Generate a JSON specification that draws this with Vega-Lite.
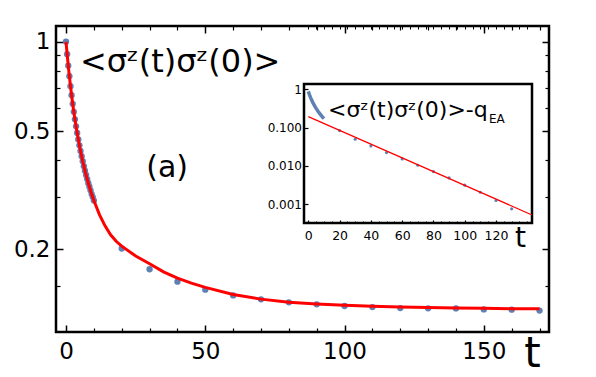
{
  "$schema": "https://vega.github.io/schema/vega-lite/v6.json",
  "width": 493,
  "height": 306,
  "autosize": {"type": "none"},
  "padding": {"left": 56, "top": 26, "right": 47, "bottom": 45},
  "background": "white",
  "config": {
    "view": {"stroke": "black", "strokeWidth": 2.5},
    "font": "DejaVu Sans",
    "axis": {"grid": false, "domain": false, "tickColor": "black", "labelColor": "black", "titleColor": "black", "labelFont": "DejaVu Sans", "titleFont": "DejaVu Sans", "titleFontWeight": "normal", "labelOverlap": false, "labelBound": false, "labelFlush": false}
  },
  "datasets": {
    "mainData": [
      {"t": 0, "c": 1.0}, {"t": 0.4, "c": 0.908}, {"t": 0.8, "c": 0.831}, {"t": 1.2, "c": 0.766},
      {"t": 1.6, "c": 0.709}, {"t": 2.0, "c": 0.661}, {"t": 2.4, "c": 0.618}, {"t": 2.8, "c": 0.581},
      {"t": 3.2, "c": 0.548}, {"t": 3.6, "c": 0.519}, {"t": 4.0, "c": 0.493}, {"t": 4.4, "c": 0.469},
      {"t": 4.8, "c": 0.448}, {"t": 5.2, "c": 0.429}, {"t": 5.6, "c": 0.412}, {"t": 6.0, "c": 0.396},
      {"t": 6.4, "c": 0.381}, {"t": 6.8, "c": 0.368}, {"t": 7.2, "c": 0.356}, {"t": 7.6, "c": 0.345},
      {"t": 8.0, "c": 0.334}, {"t": 8.4, "c": 0.325}, {"t": 8.8, "c": 0.316}, {"t": 9.2, "c": 0.307},
      {"t": 9.6, "c": 0.300}, {"t": 10.0, "c": 0.292},
      {"t": 20, "c": 0.2013}, {"t": 30, "c": 0.1714}, {"t": 40, "c": 0.1557}, {"t": 50, "c": 0.1463},
      {"t": 60, "c": 0.140}, {"t": 70, "c": 0.1358}, {"t": 80, "c": 0.1327}, {"t": 90, "c": 0.1306},
      {"t": 100, "c": 0.1289}, {"t": 110, "c": 0.1279}, {"t": 120, "c": 0.1269}, {"t": 130, "c": 0.1266},
      {"t": 140, "c": 0.1265}, {"t": 150, "c": 0.1256}, {"t": 160, "c": 0.1253}, {"t": 170, "c": 0.1244}
    ],
    "mainFit": [
      {"t": 0, "c": 1.0}, {"t": 0.5, "c": 0.888}, {"t": 1, "c": 0.797}, {"t": 1.5, "c": 0.723},
      {"t": 2, "c": 0.661}, {"t": 2.5, "c": 0.608}, {"t": 3, "c": 0.564}, {"t": 3.5, "c": 0.526},
      {"t": 4, "c": 0.493}, {"t": 5, "c": 0.438}, {"t": 6, "c": 0.396}, {"t": 7, "c": 0.362},
      {"t": 8, "c": 0.334}, {"t": 9, "c": 0.311}, {"t": 10, "c": 0.292}, {"t": 12, "c": 0.262},
      {"t": 14, "c": 0.240}, {"t": 16, "c": 0.224}, {"t": 18, "c": 0.213}, {"t": 20, "c": 0.205},
      {"t": 25, "c": 0.190}, {"t": 30, "c": 0.179}, {"t": 35, "c": 0.168}, {"t": 40, "c": 0.160},
      {"t": 45, "c": 0.154}, {"t": 50, "c": 0.149}, {"t": 60, "c": 0.141}, {"t": 70, "c": 0.136},
      {"t": 80, "c": 0.1327}, {"t": 90, "c": 0.1310}, {"t": 100, "c": 0.1297}, {"t": 110, "c": 0.1287},
      {"t": 120, "c": 0.1279}, {"t": 130, "c": 0.1274}, {"t": 140, "c": 0.1270}, {"t": 150, "c": 0.1266},
      {"t": 160, "c": 0.1263}, {"t": 170, "c": 0.1261}
    ],
    "insetData": [
      {"t": 20, "d": 0.0832}, {"t": 30, "d": 0.0494}, {"t": 40, "d": 0.0331}, {"t": 50, "d": 0.0221},
      {"t": 60, "d": 0.0151}, {"t": 70, "d": 0.01035}, {"t": 80, "d": 0.00707}, {"t": 90, "d": 0.00483},
      {"t": 100, "d": 0.00311}, {"t": 110, "d": 0.00204}, {"t": 120, "d": 0.00124}, {"t": 130, "d": 0.00075}
    ],
    "insetEarly": [
      {"t": 0, "d": 0.878}, {"t": 0.4, "d": 0.786}, {"t": 0.8, "d": 0.709}, {"t": 1.2, "d": 0.644},
      {"t": 1.6, "d": 0.587}, {"t": 2.0, "d": 0.539}, {"t": 2.4, "d": 0.496}, {"t": 2.8, "d": 0.459},
      {"t": 3.2, "d": 0.426}, {"t": 3.6, "d": 0.397}, {"t": 4.0, "d": 0.371}, {"t": 4.4, "d": 0.347},
      {"t": 4.8, "d": 0.326}, {"t": 5.2, "d": 0.307}, {"t": 5.6, "d": 0.290}, {"t": 6.0, "d": 0.274},
      {"t": 6.4, "d": 0.259}, {"t": 6.8, "d": 0.246}, {"t": 7.2, "d": 0.234}, {"t": 7.6, "d": 0.223},
      {"t": 8.0, "d": 0.212}, {"t": 8.4, "d": 0.203}, {"t": 8.8, "d": 0.194}, {"t": 9.2, "d": 0.185},
      {"t": 9.6, "d": 0.178}, {"t": 10.0, "d": 0.170}
    ],
    "insetFit": [
      {"t": 0, "d": 0.193}, {"t": 143, "d": 0.00052}
    ]
  },
  "layer": [
    {
      "layer": [
        {
          "data": {"name": "mainData"},
          "mark": {"type": "circle", "color": "#5E81B5", "size": 40, "opacity": 1},
          "encoding": {
            "x": {
              "field": "t", "type": "quantitative",
              "scale": {"domain": [-3.6, 173.4], "nice": false, "zero": false},
              "axis": {
                "orient": "bottom", "offset": -7,
                "values": [0, 50, 100, 150],
                "tickSize": 7, "tickWidth": 1.5, "labelFontSize": 23, "labelPadding": 8,
                "title": "t", "titleFontSize": 42, "titleX": 476, "titleY": 41,
                "titleBaseline": "alphabetic", "titleAlign": "center", "titleAnchor": null
              }
            },
            "y": {
              "field": "c", "type": "quantitative",
              "scale": {"type": "log", "domain": [0.1054, 1.13], "nice": false},
              "axis": {
                "orient": "left", "offset": -7,
                "values": [0.2, 0.5, 1],
                "labelExpr": "datum.value == 1 ? '1' : datum.value == 0.5 ? '0.5' : '0.2'",
                "tickSize": 7, "tickWidth": 1.5, "labelFontSize": 23, "labelPadding": 6,
                "title": null
              }
            }
          }
        },
        {
          "data": {"name": "mainFit"},
          "mark": {"type": "line", "color": "#FF0000", "strokeWidth": 3, "clip": true},
          "encoding": {
            "x": {
              "field": "t", "type": "quantitative",
              "axis": {
                "orient": "bottom", "offset": -4,
                "values": [10, 20, 30, 40, 60, 70, 80, 90, 110, 120, 130, 140, 160, 170],
                "tickSize": 4, "tickWidth": 1.2, "labels": false, "title": null
              }
            },
            "y": {
              "field": "c", "type": "quantitative",
              "axis": {
                "orient": "left", "offset": -4,
                "values": [0.15, 0.3, 0.4, 0.6, 0.7, 0.8, 0.9],
                "tickSize": 4, "tickWidth": 1.2, "labels": false, "title": null
              }
            }
          }
        },
        {
          "data": {"values": [{}]},
          "mark": {"type": "text", "text": "<σᶻ(t)σᶻ(0)>", "fontSize": 32, "align": "left", "baseline": "alphabetic", "color": "black", "font": "DejaVu Sans"},
          "encoding": {
            "x": {
              "datum": 5.0, "type": "quantitative",
              "axis": {
                "orient": "top", "offset": -7,
                "values": [0, 50, 100, 150],
                "tickSize": 7, "tickWidth": 1.5, "labels": false, "title": null
              }
            },
            "y": {
              "datum": 0.792, "type": "quantitative",
              "axis": {
                "orient": "right", "offset": -7,
                "values": [0.2, 0.5, 1],
                "tickSize": 7, "tickWidth": 1.5, "labels": false, "title": null
              }
            }
          }
        },
        {
          "data": {"values": [{}]},
          "mark": {"type": "text", "text": "(a)", "fontSize": 30, "align": "center", "baseline": "alphabetic", "color": "black", "font": "DejaVu Sans"},
          "encoding": {
            "x": {
              "datum": 36.3, "type": "quantitative",
              "axis": {
                "orient": "top", "offset": -4,
                "values": [10, 20, 30, 40, 60, 70, 80, 90, 110, 120, 130, 140, 160, 170],
                "tickSize": 4, "tickWidth": 1.2, "labels": false, "title": null
              }
            },
            "y": {
              "datum": 0.35, "type": "quantitative",
              "axis": {
                "orient": "right", "offset": -4,
                "values": [0.15, 0.3, 0.4, 0.6, 0.7, 0.8, 0.9],
                "tickSize": 4, "tickWidth": 1.2, "labels": false, "title": null
              }
            }
          }
        }
      ],
      "resolve": {"axis": {"x": "independent", "y": "independent"}}
    },
    {
      "layer": [
        {
          "data": {"values": [{}]},
          "mark": {"type": "rect", "fill": "white", "stroke": "black", "strokeWidth": 2.5},
          "encoding": {
            "x": {
              "datum": -2.75, "type": "quantitative",
              "scale": {"domain": [-2.75, 143], "range": [248, 476], "nice": false, "zero": false},
              "axis": {
                "orient": "bottom", "offset": -112, "zindex": 1,
                "values": [0, 20, 40, 60, 80, 100, 120],
                "tickSize": 3, "tickWidth": 1.2, "labelFontSize": 12.5, "labelPadding": 6,
                "title": "t", "titleFontSize": 28, "titleX": 464, "titleY": 26,
                "titleBaseline": "alphabetic", "titleAlign": "center", "titleAnchor": null
              }
            },
            "x2": {"datum": 143},
            "y": {
              "datum": 0.00032, "type": "quantitative",
              "scale": {"type": "log", "domain": [0.00032, 1.37], "range": [197, 58], "nice": false},
              "axis": {
                "orient": "left", "offset": -252, "zindex": 1,
                "values": [0.001, 0.01, 0.1, 1],
                "labelExpr": "datum.value == 1 ? '1' : format(datum.value, '.3f')",
                "tickSize": 4, "tickWidth": 1.2, "labelFontSize": 12, "labelPadding": 2.5,
                "title": null
              }
            },
            "y2": {"datum": 1.37}
          }
        },
        {
          "data": {"name": "insetEarly"},
          "mark": {"type": "line", "color": "#5E81B5", "strokeWidth": 3.5},
          "encoding": {
            "x": {
              "field": "t", "type": "quantitative",
              "axis": {
                "orient": "bottom", "offset": -111, "zindex": 1,
                "values": [5, 10, 15, 25, 30, 35, 45, 50, 55, 65, 70, 75, 85, 90, 95, 105, 110, 115, 125, 130, 135, 140],
                "tickSize": 2, "tickWidth": 1, "labels": false, "title": null
              }
            },
            "y": {"field": "d", "type": "quantitative", "axis": null}
          }
        },
        {
          "data": {"name": "insetData"},
          "mark": {"type": "circle", "color": "#5E81B5", "size": 10, "opacity": 1},
          "encoding": {
            "x": {
              "field": "t", "type": "quantitative",
              "axis": {
                "orient": "top", "offset": -3, "zindex": 1,
                "values": [0, 5, 10, 15, 20, 25, 30, 35, 40, 45, 50, 55, 60, 65, 70, 75, 80, 85, 90, 95, 100, 105, 110, 115, 120, 125, 130, 135, 140],
                "tickSize": 3, "tickWidth": 1, "labels": false, "title": null
              }
            },
            "y": {"field": "d", "type": "quantitative", "axis": null}
          }
        },
        {
          "data": {"name": "insetFit"},
          "mark": {"type": "line", "color": "#FF0000", "strokeWidth": 1.2},
          "encoding": {
            "x": {"field": "t", "type": "quantitative", "axis": null},
            "y": {"field": "d", "type": "quantitative", "axis": null}
          }
        },
        {
          "data": {"values": [{}]},
          "mark": {"type": "text", "text": "<σᶻ(t)σᶻ(0)>-q", "fontSize": 22, "align": "left", "baseline": "alphabetic", "color": "black", "font": "DejaVu Sans"},
          "encoding": {
            "x": {"datum": 12.6, "type": "quantitative", "axis": null},
            "y": {"datum": 0.189, "type": "quantitative", "axis": null}
          }
        },
        {
          "data": {"values": [{}]},
          "mark": {"type": "text", "text": "EA", "fontSize": 12, "align": "left", "baseline": "alphabetic", "color": "black", "font": "DejaVu Sans"},
          "encoding": {
            "x": {"datum": 115.5, "type": "quantitative", "axis": null},
            "y": {"datum": 0.132, "type": "quantitative", "axis": null}
          }
        }
      ],
      "resolve": {"axis": {"x": "independent", "y": "independent"}}
    }
  ],
  "resolve": {"scale": {"x": "independent", "y": "independent"}, "axis": {"x": "independent", "y": "independent"}}
}
